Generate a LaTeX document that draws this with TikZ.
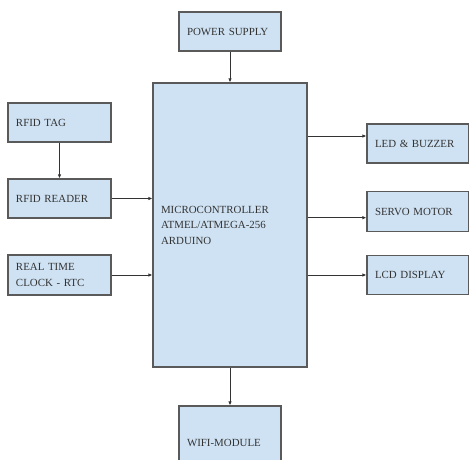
\documentclass[tikz,border=0pt]{standalone}
\usepackage{fontspec}
\setmainfont{Liberation Serif}
\usepackage{xcolor}
\usepackage{tikz}
\usetikzlibrary{arrows.meta}
\definecolor{boxblue}{HTML}{CFE2F3}
\definecolor{boxedge}{HTML}{5A5A5A}

\begin{document}
\begin{tikzpicture}[x=1pt, y=-1pt,
    blk/.style={draw=boxedge, fill=boxblue, line width=1.2pt, rectangle, align=left, inner xsep=8pt, inner ysep=0pt, font=\fontsize{10.9}{15.5}\selectfont, text=black!80},
    link/.style={line width=0.9pt, draw=black!80, -{Latex[length=4pt, width=3.5pt]}},
]
\path[use as bounding box, clip] (0,0) rectangle (469,459);

% Controller
\node[blk, text width=138pt, minimum height=284pt] (mcu) at (230, 225) {MICROCONTROLLER\\ATMEL/ATMEGA-256\\ARDUINO};

% Top and bottom blocks
\node[blk, text width=86pt, minimum height=39pt] (power) at (230, 31.5) {POWER SUPPLY};
\node[blk, text width=86pt, minimum height=74pt] (wifi) at (230, 443) {WIFI-MODULE};

% Inputs (left side)
\node[blk, text width=87pt, minimum height=39pt] (tag) at (59.5, 122.5) {RFID TAG};
\node[blk, text width=87pt, minimum height=39pt] (reader) at (59.5, 198.5) {RFID READER};
\node[blk, text width=87pt, minimum height=40pt] (rtc) at (59.5, 275) {REAL TIME\\CLOCK - RTC};

% Outputs (right side)
\node[blk, text width=86pt, minimum height=39pt] (led) at (418, 143.5) {LED \& BUZZER};
\node[blk, text width=86pt, minimum height=40pt] (servo) at (418, 211.7) {SERVO MOTOR};
\node[blk, text width=86pt, minimum height=39pt] (lcd) at (418, 275) {LCD DISPLAY};

\coordinate (ledin) at ([yshift=7.5pt]led.west);
\coordinate (servoin) at ([yshift=-6pt]servo.west);

% Links
\draw[link] (power) -- (mcu);
\draw[link] (tag) -- (reader);
\draw[link] (reader) -- (reader -| mcu.west);
\draw[link] (rtc) -- (rtc -| mcu.west);
\draw[link] (ledin -| mcu.east) -- (ledin);
\draw[link] (servoin -| mcu.east) -- (servoin);
\draw[link] (lcd -| mcu.east) -- (lcd);
\draw[link] (mcu) -- (wifi);
\end{tikzpicture}
\end{document}
